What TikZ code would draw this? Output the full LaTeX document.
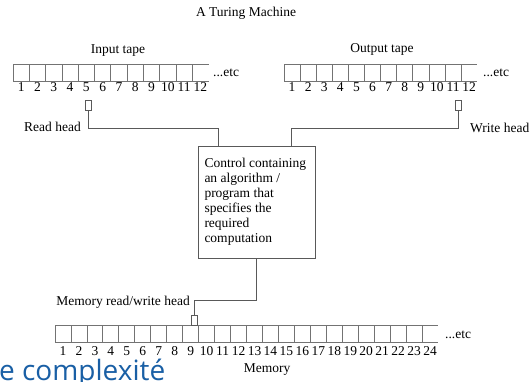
\documentclass[tikz,border=0pt]{standalone}
\usepackage{fontspec}
\setmainfont{Liberation Serif}
\newfontfamily\slidefont{Open Sans}
\usetikzlibrary{positioning,calc}
\definecolor{slideblue}{RGB}{25,95,165}

\begin{document}
\begin{tikzpicture}[x=1pt,y=-1pt,
  every node/.style={font=\fontsize{13.5}{15}\selectfont},
  cell/.style={draw=black!55,line width=.8pt},
  wire/.style={draw=black!65,line width=.8pt},
  head/.style={draw=black!65,line width=.8pt,minimum width=6pt,minimum height=10pt,inner sep=0pt}]
\useasboundingbox (0,0) rectangle (530,381);
\clip (0,0) rectangle (530,381);
\node (title) at (246,13) {A Turing Machine};
\node (intape) at (118,51) {Input tape};
\node (outtape) at (382,49) {Output tape};
% input tape
\foreach \i in {1,...,12} {
  \draw[cell] ({13+(\i-1)*16.3},64) -- ({13+(\i-1)*16.3},81);
  \node (in\i) at ({13+(\i-0.5)*16.3},87) {\i};
}
\draw[cell] (13,64) -- (208.6,64) (13,81) -- (208.6,81);
\node[anchor=west,inner sep=0pt] (inetc) at (213,73) {...etc};
% output tape
\foreach \i in {1,...,12} {
  \draw[cell] ({284+(\i-1)*16.1},64) -- ({284+(\i-1)*16.1},81);
  \node (out\i) at ({284+(\i-0.5)*16.1},87) {\i};
}
\draw[cell] (284,64) -- (477.2,64) (284,81) -- (477.2,81);
\node[anchor=west,inner sep=0pt] (outetc) at (483,73) {...etc};
% memory tape
\foreach \i in {1,...,24} {
  \draw[cell] ({55+(\i-1)*15.96},325) -- ({55+(\i-1)*15.96},342);
  \node (mem\i) at ({55+(\i-0.5)*15.96},351) {\i};
}
\draw[cell] (55,325) -- (438,325) (55,342) -- (438,342);
\node[anchor=west,inner sep=0pt] (memetc) at (445,335) {...etc};
\node (memlbl) at (267,370) {Memory};
% heads and control
\node[head] (rhead) at (88.5,105) {};
\node[head] (whead) at (458.5,105) {};
\node[head] (mhead) at (194.5,320) {};
\node[anchor=east,inner sep=0pt] (rlbl) at (81,127) {Read head};
\node[anchor=west,inner sep=0pt] (wlbl) at (470,128) {Write head};
\node[anchor=east,inner sep=0pt] (mlbl) at (190,302) {Memory read/write head};
\node[draw=black!65,line width=.8pt,minimum width=117pt,minimum height=112pt,
  text width=104pt,inner xsep=6.5pt,align=flush left] (ctrl) at (256.5,202)
  {Control containing an algorithm / program that specifies the required computation};
\draw[wire] (rhead.south) -- ++(0,18) -| ([xshift=21pt]ctrl.north west);
\draw[wire] (whead.south) -- ++(0,18) -| ([xshift=-24pt]ctrl.north east);
\draw[wire] (ctrl.south) -- ++(0,42) -| (mhead.north);
\node[anchor=base west,inner sep=0pt,text=slideblue,
  font=\slidefont\fontsize{28}{30}\selectfont] (slide) at (-1,380) {e complexité};
\end{tikzpicture}
\end{document}
